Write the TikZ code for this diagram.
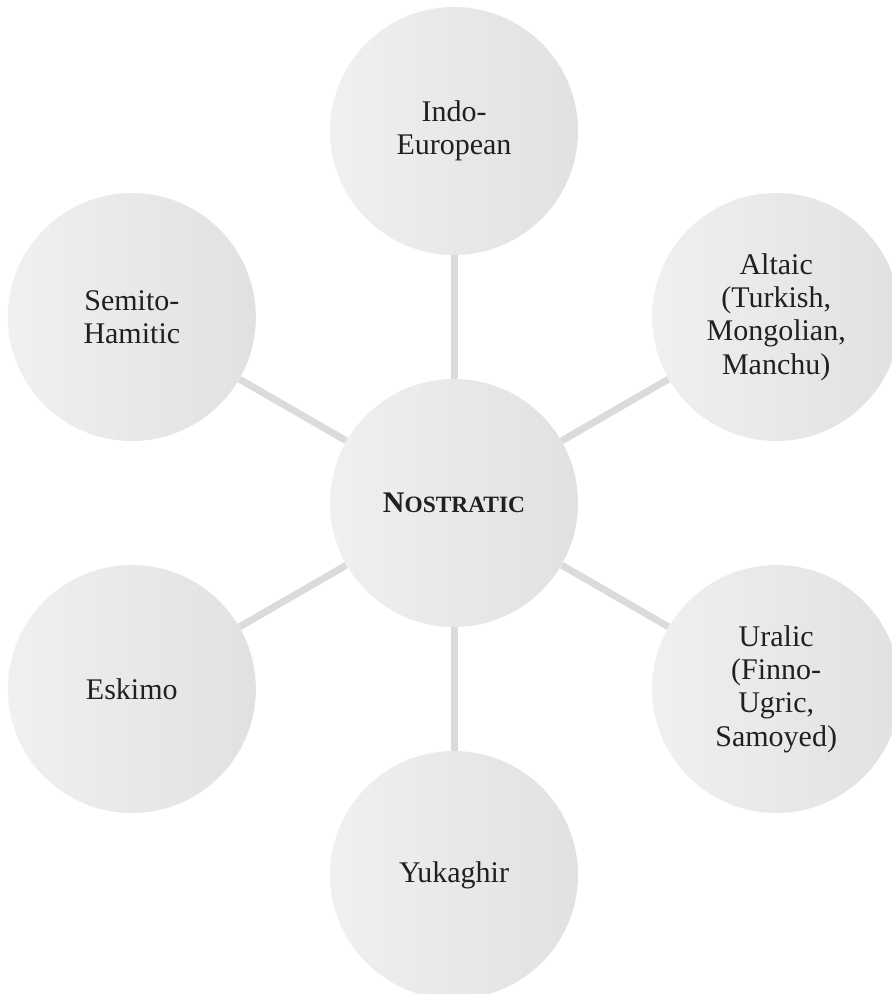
\documentclass[tikz,border=0pt]{standalone}
\usepackage{fontspec}
\setmainfont{Liberation Serif}
\usetikzlibrary{positioning}
\definecolor{discleft}{HTML}{EFF0F1}
\definecolor{discright}{HTML}{E0E1E3}
\definecolor{linkgray}{HTML}{DADBDD}
\definecolor{textdark}{HTML}{231F20}
\tikzstyle{family} = [circle, minimum size=124pt, inner sep=0pt, align=center, left color=discleft, right color=discright, text=textdark, font=\fontsize{15}{16.7}\selectfont]
\tikzstyle{link} = [line width=3.5pt, draw=linkgray]
\newcommand{\fakesc}[2]{#1{\fontsize{11.7}{12}\selectfont #2}}

\begin{document}
\begin{tikzpicture}[x=0.5pt,y=0.5pt]
            \useasboundingbox (-454,-491) rectangle (437,503);
            \node (nostratic) [family] at (0,0) {\bfseries\fakesc{N}{OSTRATIC}};
            \node (indo) [family] at (90:186pt) {Indo-\\European};
            \node (altaic) [family] at (30:186pt) {Altaic\\(Turkish,\\Mongolian,\\Manchu)};
            \node (uralic) [family] at (-30:186pt) {Uralic\\(Finno-\\Ugric,\\Samoyed)};
            \node (yukaghir) [family] at (-90:186pt) {Yukaghir};
            \node (eskimo) [family] at (210:186pt) {Eskimo};
            \node (semito) [family] at (150:186pt) {Semito-\\Hamitic};

            \draw [link] (nostratic) -- (indo);
            \draw [link] (nostratic) -- (altaic);
            \draw [link] (nostratic) -- (uralic);
            \draw [link] (nostratic) -- (yukaghir);
            \draw [link] (nostratic) -- (eskimo);
            \draw [link] (nostratic) -- (semito);
        \end{tikzpicture}
\end{document}
